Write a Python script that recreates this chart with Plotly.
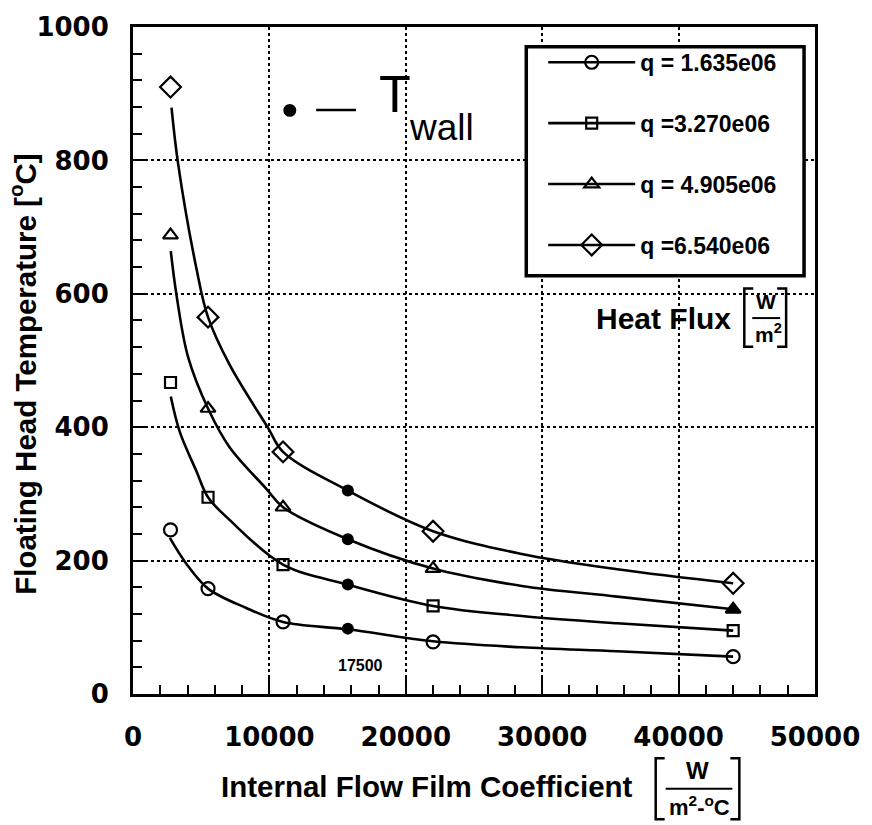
import plotly.graph_objects as go

# ---------------- data ----------------
h_mark = [2750, 5500, 11000, 22000, 44000]          # film coefficient of the open markers
t_q1 = [246, 158, 108, 78, 56]                       # q = 1.635e06
t_q2 = [467, 295, 194, 132, 95]                      # q = 3.270e06
t_q3 = [688, 428, 280, 188, 127]                     # q = 4.905e06
t_q4 = [910, 565, 363, 244, 166]                     # q = 6.540e06

# fitted curves (samples)
c1_x = [2700, 3920, 5500, 8300, 11000, 15750, 22000, 28500, 35500, 44000]
c1_y = [234, 195, 158, 129, 108, 97, 79, 70, 64, 56]
c2_x = [2770, 3430, 4650, 5500, 7080, 11000, 15750, 22000, 28500, 35500, 44000]
c2_y = [446, 393, 334, 295, 261, 194, 164, 132, 117, 106, 95]
c3_x = [2770, 3190, 4040, 5500, 7080, 9760, 11000, 15750, 22000, 28500, 35500, 44000]
c3_y = [664, 598, 505, 428, 370, 308, 280, 232, 188, 162, 146, 127]
c4_x = [2825, 3300, 4650, 5500, 7100, 9900, 11000, 15750, 22000, 28500, 35500, 44000]
c4_y = [879, 796, 638, 565, 493, 399, 363, 305, 244, 210, 187, 166]

twall_x = [15750, 15750, 15750, 15750]
twall_y = [98, 164, 232, 305]

names = ["q = 1.635e06", "q =3.270e06", "q = 4.905e06", "q =6.540e06"]
symbols = ["circle-open", "square-open", "triangle-up-open", "diamond-open"]
sizes = [13, 11, 13, 16]
sym_q3 = ["triangle-up-open"] * 4 + ["triangle-up"]

x_ticks = [0, 10000, 20000, 30000, 40000, 50000]
x_tick_text = ["0", "10000", "20000", "30000", "40000", "50000"]
y_ticks = [0, 200, 400, 600, 800, 1000]
y_tick_text = ["0", "200", "400", "600", "800", "1000"]

# ---------------- geometry helpers (pixel -> paper) ----------------
L, R, T, B = 133, 818, 18, 694
W_, H_ = 872, 825
def xp(px):
    return (px - L) / (R - L)
def yp(py):
    return (B - py) / (B - T)

fig = go.Figure()

curves = [(c1_x, c1_y), (c2_x, c2_y), (c3_x, c3_y), (c4_x, c4_y)]
marks = [t_q1, t_q2, t_q3, t_q4]
for i in range(4):
    cx, cy = curves[i]
    fig.add_trace(go.Scatter(x=cx, y=cy, mode="lines", line=dict(color="black", width=2.6, shape="spline"),
                             showlegend=False, hoverinfo="skip"))
    sym = sym_q3 if i == 2 else symbols[i]
    fig.add_trace(go.Scatter(x=h_mark, y=marks[i], mode="markers",
                             marker=dict(symbol=sym, size=sizes[i], color="black",
                                         line=dict(color="black", width=2.2)),
                             showlegend=False, name=names[i]))

fig.add_trace(go.Scatter(x=twall_x, y=twall_y, mode="markers",
                         marker=dict(symbol="circle", size=12, color="black"),
                         showlegend=False, name="T wall"))

# legend entries
for i in range(4):
    fig.add_trace(go.Scatter(x=[None], y=[None], mode="lines+markers", name=names[i],
                             legendgroup=f"g{i}",
                             line=dict(color="black", width=2.6),
                             marker=dict(symbol=symbols[i], size=sizes[i], color="black",
                                         line=dict(color="black", width=2.2))))

tickfont = dict(family="DejaVu Sans", size=26, color="black", weight="bold")
axis_common = dict(showline=True, linewidth=3, linecolor="black", mirror=True,
                   showgrid=True, gridcolor="black", gridwidth=2, griddash="dot",
                   zeroline=False, ticks="inside", tickcolor="black", tickwidth=2,
                   tickfont=tickfont)

fig.update_xaxes(range=[0, 50000], tickvals=x_ticks, ticktext=x_tick_text, ticklen=16, ticklabelstandoff=18,
                 minor=dict(dtick=2000, ticks="inside", ticklen=9, tickcolor="black", tickwidth=2, showgrid=False),
                 **axis_common)
fig.update_yaxes(range=[0, 1000], tickvals=y_ticks, ticktext=y_tick_text, ticklen=12, ticklabelstandoff=16,
                 minor=dict(dtick=40, ticks="inside", ticklen=9, tickcolor="black", tickwidth=2, showgrid=False),
                 **axis_common)

ann = []
lbl = dict(family="Liberation Sans", color="black", weight="bold")
# axis titles
ann.append(dict(text="Internal Flow Film Coefficient", x=xp(428), y=yp(788), xref="paper", yref="paper",
                showarrow=False, xanchor="center", yanchor="middle", font=dict(size=29.5, **lbl)))
ann.append(dict(text="Floating Head Temperature [<sup>o</sup>C]", x=xp(22), y=yp(369), xref="paper", yref="paper",
                showarrow=False, textangle=-90, xanchor="center", yanchor="middle", font=dict(size=29.5, **lbl)))
# x unit fraction
ann.append(dict(text="W", x=xp(700), y=yp(772), xref="paper", yref="paper", showarrow=False,
                xanchor="center", yanchor="middle", font=dict(size=24, **lbl)))
ann.append(dict(text="m<sup>2</sup>-<sup>o</sup>C", x=xp(702), y=yp(808), xref="paper", yref="paper", showarrow=False,
                xanchor="center", yanchor="middle", font=dict(size=22, **lbl)))
# heat flux label
ann.append(dict(text="Heat Flux", x=xp(666), y=yp(313), xref="paper", yref="paper", showarrow=False,
                xanchor="center", yanchor="middle", font=dict(size=30, **lbl)))
ann.append(dict(text="W", x=xp(769), y=yp(296), xref="paper", yref="paper", showarrow=False,
                xanchor="center", yanchor="middle", font=dict(size=21, **lbl)))
ann.append(dict(text="m<sup>2</sup>", x=xp(771), y=yp(328), xref="paper", yref="paper", showarrow=False,
                xanchor="center", yanchor="middle", font=dict(size=21, **lbl)))
# T wall key
ann.append(dict(text="T", x=xp(378), y=yp(117), xref="paper", yref="paper", showarrow=False,
                xanchor="left", yanchor="bottom", font=dict(family="Liberation Sans", size=52, color="black")))
ann.append(dict(text="wall", x=xp(408), y=yp(143), xref="paper", yref="paper", showarrow=False,
                xanchor="left", yanchor="bottom", font=dict(family="Liberation Sans", size=37, color="black")))
# 17500 note
ann.append(dict(text="17500", x=16700, y=43, showarrow=False, xanchor="center", yanchor="middle",
                font=dict(size=16, **lbl)))

shapes = []
def line_px(x0, y0, x1, y1, w=2.5):
    shapes.append(dict(type="line", xref="paper", yref="paper", x0=xp(x0), y0=yp(y0), x1=xp(x1), y1=yp(y1),
                       line=dict(color="black", width=w), layer="above"))
def bracket(xl, xr, yt, yb, arm):
    path_l = f"M {xp(xl+arm)} {yp(yt)} L {xp(xl)} {yp(yt)} L {xp(xl)} {yp(yb)} L {xp(xl+arm)} {yp(yb)}"
    path_r = f"M {xp(xr-arm)} {yp(yt)} L {xp(xr)} {yp(yt)} L {xp(xr)} {yp(yb)} L {xp(xr-arm)} {yp(yb)}"
    for p in (path_l, path_r):
        shapes.append(dict(type="path", xref="paper", yref="paper", path=p,
                           line=dict(color="black", width=2.5), layer="above"))

# legend box
shapes.append(dict(type="rect", xref="paper", yref="paper", x0=xp(528), x1=xp(807), y0=yp(38), y1=yp(270),
                   line=dict(color="black", width=3.5), fillcolor="white", layer="above"))
# x unit brackets + fraction bar
bracket(658, 742, 759, 821, 9)
line_px(668, 790, 735, 790, 2)
# heat flux brackets + fraction bar
bracket(747, 789, 283, 342, 9)
line_px(755, 313, 783, 313, 2)
# T wall key: dot and dash
shapes.append(dict(type="circle", xref="paper", yref="paper", x0=xp(284), x1=xp(297), y0=yp(96), y1=yp(109),
                   fillcolor="black", line=dict(color="black", width=0), layer="above"))
line_px(317, 102, 357, 102, 2.5)

fig.update_layout(width=W_, height=H_, margin=dict(l=L, r=W_ - R, t=T, b=H_ - B),
                  paper_bgcolor="white", plot_bgcolor="white",
                  annotations=ann, shapes=shapes,
                  legend=dict(x=xp(545), y=yp(32), xanchor="left", yanchor="top", bgcolor="rgba(0,0,0,0)",
                              borderwidth=0, font=dict(family="Liberation Sans", size=23, color="black", weight="bold"),
                              tracegroupgap=28, itemwidth=87, traceorder="grouped"),
                  font=dict(family="Liberation Sans", color="black"))

fig.write_html("out.html")
